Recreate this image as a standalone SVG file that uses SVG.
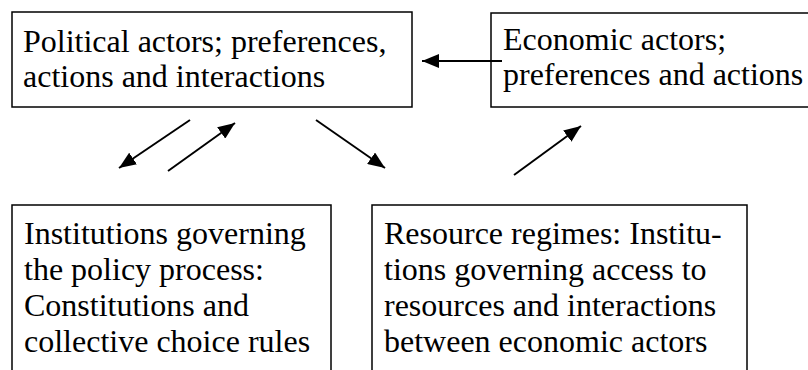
<svg xmlns="http://www.w3.org/2000/svg" width="808" height="370" viewBox="0 0 808 370">
  <style>
    .box { fill: #fff; stroke: #000; stroke-width: 1.5; }
    .lbl { font-family: "Liberation Serif", "Times New Roman", serif; font-size: 32px; fill: #000; }
    .edge { stroke: #000; stroke-width: 2; fill: none; marker-end: url(#head); }
  </style>
  <defs>
    <marker id="head" markerUnits="userSpaceOnUse" viewBox="0 0 17 14" refX="17" refY="7" markerWidth="17" markerHeight="14" orient="auto">
      <path d="M0,0 L17,7 L0,14 Z" fill="#000"/>
    </marker>
  </defs>
  <rect width="808" height="370" fill="#fff"/>

  <g id="political-actors">
    <rect class="box" x="12" y="12" width="400" height="95"/>
    <text class="lbl" x="23" y="52">Political actors; preferences,</text>
    <text class="lbl" x="23" y="87">actions and interactions</text>
  </g>

  <g id="economic-actors">
    <rect class="box" x="491" y="13" width="330" height="94"/>
    <text class="lbl" x="503" y="50">Economic actors;</text>
    <text class="lbl" x="503" y="85">preferences and actions</text>
  </g>

  <g id="policy-institutions">
    <rect class="box" x="12" y="205" width="319" height="180"/>
    <text class="lbl" x="24" y="244">Institutions governing</text>
    <text class="lbl" x="24" y="280">the policy process:</text>
    <text class="lbl" x="24" y="316">Constitutions and</text>
    <text class="lbl" x="24" y="352">collective choice rules</text>
  </g>

  <g id="resource-regimes">
    <rect class="box" x="372" y="205" width="375" height="180"/>
    <text class="lbl" x="384" y="244">Resource regimes: Institu-</text>
    <text class="lbl" x="384" y="280">tions governing access to</text>
    <text class="lbl" x="384" y="316">resources and interactions</text>
    <text class="lbl" x="384" y="352">between economic actors</text>
  </g>

  <g id="connectors">
    <line class="edge" x1="502" y1="61" x2="422" y2="61"/>
    <line class="edge" x1="190" y1="120" x2="119" y2="168"/>
    <line class="edge" x1="168" y1="171" x2="235" y2="123"/>
    <line class="edge" x1="316" y1="120" x2="385" y2="168"/>
    <line class="edge" x1="514" y1="175" x2="581" y2="126"/>
  </g>
</svg>
